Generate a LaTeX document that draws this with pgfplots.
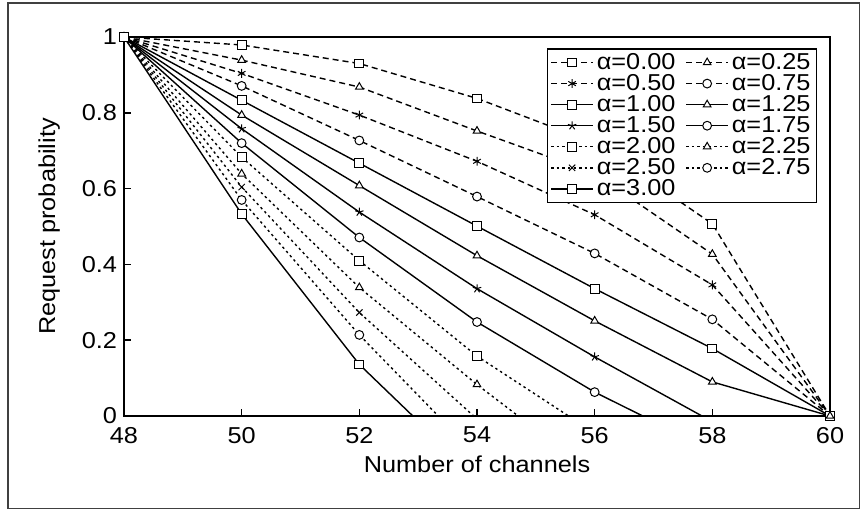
\documentclass[border=0pt]{standalone}
\usepackage{pgfplots}
\pgfplotsset{compat=1.18}
\usepackage{fontspec}
\setmainfont{Liberation Sans}[FakeStretch=1.1]
\begin{document}
\begin{tikzpicture}
\path[use as bounding box] (0pt,0pt) rectangle (430.5pt,255pt);
\draw[line width=0.6pt, black!75] (4pt,0.8pt) rectangle (429.7pt,253.5pt);
\begin{axis}[
  at={(62pt,47pt)}, anchor=south west,
  scale only axis, width=353pt, height=189.5pt,
  xmin=48, xmax=60, ymin=0, ymax=1,
  xtick={48,50,52,54,56,58,60},
  ytick={0,0.2,0.4,0.6,0.8,1},
  tick pos=left, tick align=inside, major tick length=3.5pt,
  axis line style={line width=1pt},
  every tick/.style={black, line width=0.8pt},
  /pgf/number format/assume math mode=true,
  ticklabel style={font=\fontsize{11.5}{12}\selectfont},
  xticklabel style={yshift=-2pt},
  xlabel={Number of channels}, ylabel={Request probability},
  label style={font=\fontsize{11.5}{12}\selectfont},
  xlabel style={at={(axis description cs:0.5,0)}, anchor=center, yshift=-24pt},
  ylabel style={at={(axis description cs:-0.106,0.5)}, anchor=center},
  legend columns=2,
  legend style={at={(axis description cs:0.982,0.971)}, anchor=north east,
    draw=black, line width=0.8pt, font=\fontsize{11.5}{12}\selectfont, inner sep=1.5pt,
    nodes={inner ysep=0.6pt, inner xsep=1.5pt},
    row sep=-0.2pt, column sep=0pt, cells={anchor=west},
    /tikz/every even column/.append style={column sep=3.5pt}},
  legend image code/.code={\draw[mark indices={2}] plot coordinates {(0pt,0pt)(10.5pt,0pt)(21pt,0pt)};},
  dsh/.style={black, line width=0.7pt, dash pattern=on 3pt off 2pt},
  sld/.style={black, line width=0.7pt, solid},
  dtt/.style={black, line width=0.7pt, dash pattern=on 1.2pt off 1.6pt},
  mark size=2.2pt,
  every axis plot/.append style={mark options={solid, fill=white, line width=0.5pt}},
]
\addplot[dsh, mark=square*] coordinates {(48,1)(50,0.979)(52,0.930)(54,0.838)(56,0.720)(58,0.507)(60,0)};
\addlegendentry{α=0.00}
\addplot[dsh, mark=triangle*] coordinates {(48,1)(50,0.939)(52,0.868)(54,0.752)(56,0.640)(58,0.427)(60,0)};
\addlegendentry{α=0.25}
\addplot[dsh, mark=asterisk] coordinates {(48,1)(50,0.904)(52,0.794)(54,0.672)(56,0.531)(58,0.346)(60,0)};
\addlegendentry{α=0.50}
\addplot[dsh, mark=*] coordinates {(48,1)(50,0.871)(52,0.727)(54,0.579)(56,0.429)(58,0.255)(60,0)};
\addlegendentry{α=0.75}
\addplot[sld, mark=square*] coordinates {(48,1)(50,0.833)(52,0.667)(54,0.501)(56,0.336)(58,0.178)(60,0)};
\addlegendentry{α=1.00}
\addplot[sld, mark=triangle*] coordinates {(48,1)(50,0.794)(52,0.608)(54,0.423)(56,0.251)(58,0.090)(60,0)};
\addlegendentry{α=1.25}
\addplot[sld, mark=star, mark indices={1,2,3,4,5}] coordinates {(48,1)(50,0.758)(52,0.538)(54,0.336)(56,0.156)(58,-0.015)};
\addlegendentry{α=1.50}
\addplot[sld, mark=*, mark indices={1,2,3,4,5}] coordinates {(48,1)(50,0.720)(52,0.471)(54,0.248)(56,0.063)(58,-0.091)};
\addlegendentry{α=1.75}
\addplot[dtt, mark=square*, mark indices={1,2,3,4}] coordinates {(48,1)(50,0.683)(52,0.410)(54,0.158)(56,-0.045)};
\addlegendentry{α=2.00}
\addplot[dtt, mark=triangle*, mark indices={1,2,3,4}] coordinates {(48,1)(50,0.639)(52,0.339)(54,0.083)(56,-0.154)};
\addlegendentry{α=2.25}
\addplot[dtt, mark=x, mark indices={1,2,3}] coordinates {(48,1)(50,0.604)(52,0.273)(54,-0.008)};
\addlegendentry{α=2.50}
\addplot[dtt, mark=*, mark indices={1,2,3}] coordinates {(48,1)(50,0.570)(52,0.214)(54,-0.105)};
\addlegendentry{α=2.75}
\addplot[sld, mark=square*, mark indices={1,2,3}] coordinates {(48,1)(50,0.533)(52,0.136)(54,-0.163)};
\addlegendentry{α=3.00}
\end{axis}
\end{tikzpicture}
\end{document}
